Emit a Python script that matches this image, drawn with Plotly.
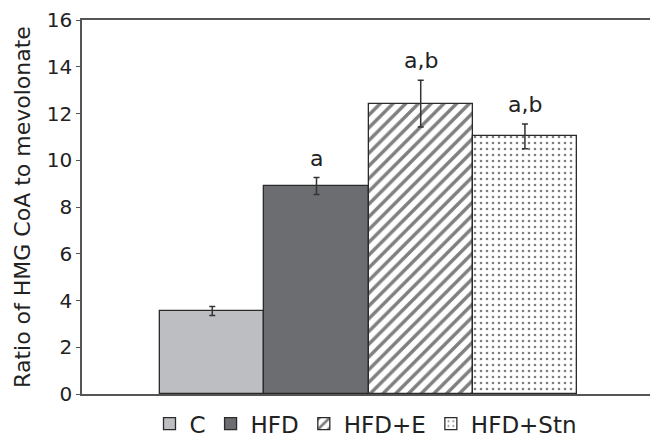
import plotly.graph_objects as go

# Group data
groups = ["C", "HFD", "HFD+E", "HFD+Stn"]
ratio = [3.55, 8.9, 12.42, 11.02]
sem = [0.19, 0.36, 1.0, 0.53]
sig_labels = ["", "a", "a,b", "a,b"]

fills = ["#bdbec2", "#6c6d71", "#ffffff", "#ffffff"]
patterns = [
    dict(shape=""),
    dict(shape=""),
    dict(shape="/", fgcolor="#000000", bgcolor="#ffffff", size=9, solidity=0.38, fillmode="overlay"),
    dict(shape=".", fgcolor="#000000", bgcolor="#ffffff", size=6, solidity=0.15, fillmode="overlay"),
]

FONT = "DejaVu Sans"
fig = go.Figure()
for i, g in enumerate(groups):
    fig.add_trace(go.Bar(
        x=[i], y=[ratio[i]], width=1, name=g,
        marker=dict(color=fills[i], pattern=patterns[i],
                    line=dict(color="#2a2a2a", width=1.3)),
        error_y=dict(type="data", array=[sem[i]], color="#333333",
                     thickness=1.5, width=3),
    ))
    if sig_labels[i]:
        fig.add_annotation(x=i, y=ratio[i] + sem[i], text=sig_labels[i],
                           showarrow=False, yanchor="bottom", yshift=5,
                           font=dict(family=FONT, size=22, color="#222222"))

fig.update_layout(
    width=650, height=439,
    margin=dict(l=82, r=0, t=20, b=45, autoexpand=False),
    paper_bgcolor="white", plot_bgcolor="white",
    barmode="overlay", bargap=0,
    font=dict(family=FONT, size=20, color="#222222"),
    showlegend=True,
    legend=dict(orientation="h", x=0.5, xanchor="center",
                yref="container", y=0.035, yanchor="middle",
                font=dict(family=FONT, size=23, color="#222222"),
                itemwidth=30, tracegroupgap=0),
    xaxis=dict(range=[-1.25, 4.2], showticklabels=False, ticks="",
               showgrid=False, zeroline=False, showline=True,
               linecolor="#555555", linewidth=1.5, mirror=True),
    yaxis=dict(range=[0, 16], dtick=2, ticks="outside", ticklen=4,
               tickcolor="#555555", showgrid=False, zeroline=False,
               showline=True, linecolor="#555555", linewidth=1.5,
               tickfont=dict(size=20),
               title=dict(text="Ratio of HMG CoA to mevolonate", standoff=10,
                          font=dict(size=22))),
)

fig.write_html("out.html")
